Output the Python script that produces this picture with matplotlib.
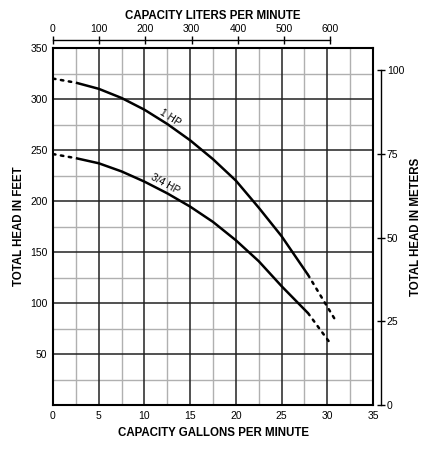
import numpy as np
import matplotlib.pyplot as plt

plt.rcParams['font.family'] = ['Liberation Sans', 'DejaVu Sans']

# curve data (gpm, feet)
hp1_gpm = [0, 2.5, 5, 7.5, 10, 12.5, 15, 17.5, 20, 22.5, 25, 27.9, 31]
hp1_ft = [320, 316, 310, 301, 289.5, 275.5, 259.5, 241, 220, 193.5, 165.5, 127.5, 81.5]
hp34_gpm = [0, 2.5, 5, 7.5, 10, 12.5, 15, 17.5, 20, 22.5, 25, 27.9, 30.2]
hp34_ft = [246, 242, 237, 229, 219, 207.5, 194.5, 179.5, 161.5, 141, 116.5, 90, 62]

x_ticks = [0, 5, 10, 15, 20, 25, 30, 35]
y_ticks = [50, 100, 150, 200, 250, 300, 350]
lpm_ticks = [0, 100, 200, 300, 400, 500, 600]
m_ticks = [0, 25, 50, 75, 100]

LPM_PER_GPM = 19.78
FT_PER_M = 3.281

fig = plt.figure(figsize=(4.34, 4.54), dpi=100)
ax = fig.add_axes([53/434, 1 - 405/454, 320/434, 357/454])

ax.set_xlim(0, 35)
ax.set_ylim(0, 350)

# grid
for x in np.arange(2.5, 35, 5):
    ax.axvline(x, color='#b0b0b0', lw=1.0, zorder=1)
for y in np.arange(25, 350, 50):
    ax.axhline(y, color='#b0b0b0', lw=1.0, zorder=1)
for x in np.arange(5, 35, 5):
    ax.axvline(x, color='#222222', lw=1.1, zorder=2)
for y in np.arange(50, 350, 50):
    ax.axhline(y, color='#222222', lw=1.1, zorder=2)

for g, f, lab, pos, rot in [(hp1_gpm, hp1_ft, '1 HP', (12.8, 282), -33),
                             (hp34_gpm, hp34_ft, '3/4 HP', (12.25, 216.5), -29)]:
    ax.plot(g[:2], f[:2], color='black', lw=1.8, ls=(0, (1, 2.2)),
            dash_capstyle='round', zorder=3)
    ax.plot(g[1:-1], f[1:-1], color='black', lw=1.8, zorder=3,
            solid_capstyle='butt', solid_joinstyle='round')
    ax.plot(g[-2:], f[-2:], color='black', lw=1.8, ls=(0, (1, 2.2)),
            dash_capstyle='round', zorder=3)
    ax.text(pos[0], pos[1], lab, rotation=rot, fontsize=7.3, ha='center',
            va='center', rotation_mode='anchor', zorder=4)

for s in ax.spines.values():
    s.set_linewidth(1.5)

ax.set_xticks(x_ticks)
ax.set_yticks(y_ticks)
ax.tick_params(length=0, labelsize=7.5, pad=4)
ax.set_xlabel('CAPACITY GALLONS PER MINUTE', fontsize=8.3, fontweight='bold',
              labelpad=5)
ax.set_ylabel('TOTAL HEAD IN FEET', fontsize=8.3, fontweight='bold', labelpad=4)

# top axis: liters per minute
top = ax.secondary_xaxis('top', functions=(lambda g: g * LPM_PER_GPM,
                                           lambda l: l / LPM_PER_GPM))
top.set_xticks(lpm_ticks)
top.spines['top'].set_position(('outward', 6))
top.spines['top'].set_bounds(0, 600)
top.spines['top'].set_linewidth(1.0)
top.tick_params(direction='inout', length=6, width=1.0, labelsize=7.5, pad=1)
top.set_xlabel('CAPACITY LITERS PER MINUTE', fontsize=8.3, fontweight='bold',
               labelpad=4)

# right axis: meters
right = ax.secondary_yaxis('right', functions=(lambda f: f / FT_PER_M,
                                               lambda m: m * FT_PER_M))
right.set_yticks(m_ticks)
right.spines['right'].set_position(('outward', 6))
right.spines['right'].set_bounds(0, 100)
right.spines['right'].set_linewidth(1.0)
right.tick_params(direction='inout', length=6, width=1.0, labelsize=7.5, pad=1)
right.set_ylabel('TOTAL HEAD IN METERS', fontsize=8.3, fontweight='bold',
                 labelpad=4)

fig.savefig('out.png', dpi=100)
